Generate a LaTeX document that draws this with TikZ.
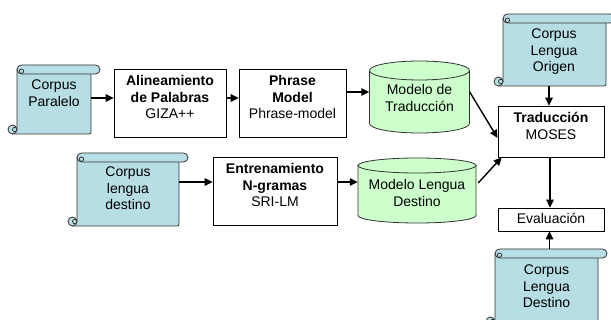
\documentclass[tikz,border=0pt]{standalone}
\usepackage{fontspec}
\setmainfont{Liberation Sans}
\usetikzlibrary{arrows.meta}
\definecolor{scrollfill}{RGB}{183,222,228}
\definecolor{cylfill}{RGB}{204,255,204}
\definecolor{scrollline}{RGB}{51,51,51}
\tikzset{
 txt/.style={anchor=base, inner sep=0pt, font=\fontsize{14pt}{16.5pt}\selectfont},
 boxn/.style={draw=black, line width=0.8pt, fill=white, inner sep=0pt},
 area/.style={inner sep=0pt, draw=none},
 arr/.style={line width=1.4pt, -{Triangle[length=8pt,width=7.5pt]}},
 sline/.style={draw=scrollline, line width=0.8pt, fill=scrollfill},
 cline/.style={draw=black!80, line width=0.8pt, fill=cylfill},
}
\newcommand\lns[1]{\begin{tabular}[t]{@{}c@{}}#1\end{tabular}}
\newcommand\myscroll[5]{% name L T R B
 \path[sline] ({#2},{#3+4.5}) -- ({#2},{#5-4.5}) -- ({#2-4.5},{#5-4.5}) -- ({#2-4.5},{#5}) -- ({#4-4.5},{#5}) .. controls ({#4},{#5}) .. ({#4},{#5-4.5}) -- ({#4},{#3+4.5}) -- cycle;
 \path[sline, rounded corners=4.5pt] ({#2},{#3}) rectangle ({#4+9},{#3+9});
 \path[sline] ({#2+4.5},{#3+6.2}) circle[radius=2.2];
 \path[sline] ({#2-4.5},{#5-4.5}) circle[radius=4.5];
 \path[sline] ({#2-2.3},{#5-4.5}) circle[radius=2.2];
 \node[area, minimum width={(#4-#2)*1pt}, minimum height={(#5-#3)*1pt}] (#1) at ({(#2+#4)/2},{(#3+#5)/2}) {};
}
\newcommand\mycyl[6]{% name L T R B ry
 \pgfmathsetmacro\cx{(#2+#4)/2}\pgfmathsetmacro\rx{(#4-#2)/2}
 \path[cline] ({#2},{#3+#6}) -- ({#2},{#5-#6}) .. controls ({#2},{#5-#6+0.5523*#6}) and ({\cx-0.5523*\rx},{#5}) .. ({\cx},{#5}) .. controls ({\cx+0.5523*\rx},{#5}) and ({#4},{#5-#6+0.5523*#6}) .. ({#4},{#5-#6}) -- ({#4},{#3+#6}) -- cycle;
 \path[cline] ({\cx},{#3+#6}) ellipse[x radius=\rx, y radius=#6];
 \node[area, minimum width={(#4-#2)*1pt}, minimum height={(#5-#3)*1pt}] (#1) at ({\cx},{(#3+#5)/2}) {};
}
\newcommand\mybox[5]{% name L T R B
 \node[boxn, minimum width={(#4-#2)*1pt}, minimum height={(#5-#3)*1pt}] (#1) at ({(#2+#4)/2},{(#3+#5)/2}) {};
}
\begin{document}
\begin{tikzpicture}[x=1pt,y=-1pt]
\useasboundingbox (0,0) rectangle (611,320);
% scrolls
\myscroll{cpar}{17}{65}{91}{134}
\myscroll{cld}{77}{153}{179}{226}
\myscroll{clo}{503}{14}{606}{86}
\myscroll{cldd}{495}{249}{598}{326}
% boxes
\mybox{ali}{114}{69}{226}{137}
\mybox{phr}{239}{69}{346}{137}
\mybox{ent}{213}{157}{337}{225}
\mybox{tr}{498}{106}{604}{157}
\mybox{ev}{498}{208}{604}{231}
% cylinders
\mycyl{mt}{369.5}{61}{469.5}{133}{9.5}
\mycyl{ml}{358}{158}{476}{223}{7.5}
% texts
\node[txt] (cpart) at (54,90) {\lns{Corpus\\Paralelo}};
\node[txt] (cldt) at (128,177) {\lns{Corpus\\lengua\\destino}};
\node[txt] (clot) at (554,39) {\lns{Corpus\\Lengua\\Origen}};
\node[txt] (clddt) at (546.5,275) {\lns{Corpus\\Lengua\\Destino}};
\node[txt] (alit) at (170,86) {\lns{\textbf{Alineamiento}\\\textbf{de Palabras}\\GIZA++}};
\node[txt] (phrt) at (292.5,86) {\lns{\textbf{Phrase}\\\textbf{Model}\\Phrase-model}};
\node[txt] (entt) at (275,174) {\lns{\textbf{Entrenamiento}\\\textbf{N-gramas}\\SRI-LM}};
\node[txt] (trt) at (551,123) {\lns{\textbf{Traducción}\\MOSES}};
\node[txt] (evt) at (551,224) {Evaluación};
\node[txt] (mtt) at (419.5,95) {\lns{Modelo de\\Traducción}};
\node[txt] (mlt) at (417,190) {\lns{Modelo Lengua\\Destino}};
% arrows
\draw[arr] ([yshift=1.5pt]cpar.east) -- ([yshift=1.5pt]cpar.east -| ali.west);
\draw[arr] ([yshift=5pt]ali.east) -- ([yshift=5pt]ali.east -| phr.west);
\draw[arr] ([yshift=11pt]phr.east) -- ([yshift=11pt]phr.east -| mt.west);
\draw[arr] ([yshift=7.5pt]cld.east) -- ([yshift=7.5pt]cld.east -| ent.west);
\draw[arr] ([yshift=9pt]ent.east) -- ([yshift=9pt]ent.east -| ml.west);
\draw[arr] ([yshift=5pt]mt.east) -- ([yshift=-6.5pt]tr.west);
\draw[arr] ([xshift=2pt,yshift=7.5pt]ml.east) -- ([xshift=4pt]tr.south west);
\draw[arr] ([xshift=-5.5pt]clo.south) -- ([xshift=-5.5pt]clo.south |- tr.north);
\draw[arr] ([xshift=-1pt]tr.south) -- ([xshift=-1pt]ev.north);
\draw[arr] ([xshift=-1.5pt]ev.south |- cldd.north) -- ([xshift=-1.5pt]ev.south);
\end{tikzpicture}
\end{document}
